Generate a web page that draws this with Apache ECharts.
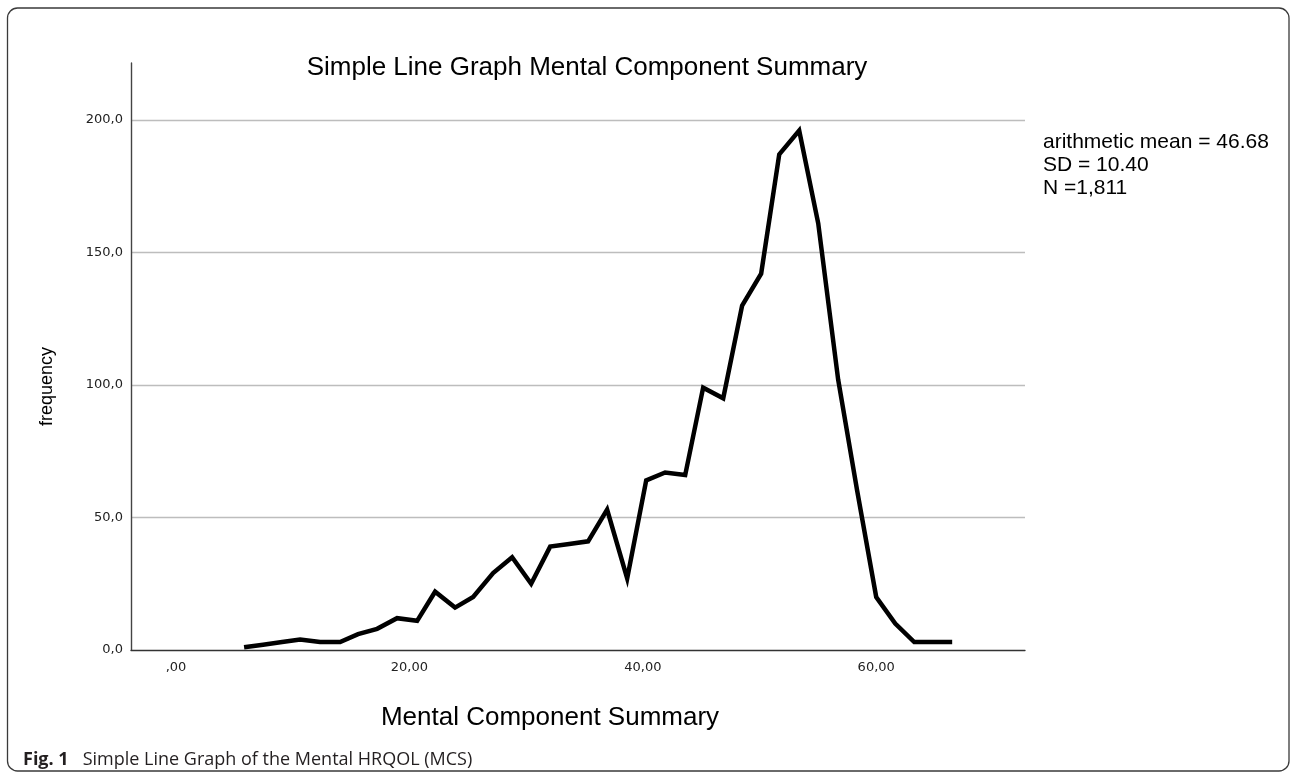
<!DOCTYPE html>
<html>
<head>
<meta charset="utf-8">
<style>
  html, body { margin: 0; padding: 0; background: #ffffff; }
  #chart { width: 1292px; height: 774px; }
</style>
<script src="https://cdn.jsdelivr.net/npm/echarts@6/dist/echarts.min.js"></script>
</head>
<body>
<div id="chart"></div>
<script>
// Mental Component Summary (bin centres) and frequencies
const mcsValues = [5.83, 7.46, 9.09, 10.63, 12.34, 14.06, 15.60, 17.23, 18.94, 20.66,
  22.20, 23.91, 25.46, 27.17, 28.80, 30.43, 32.06, 33.69, 35.31, 36.94,
  38.66, 40.29, 41.91, 43.63, 45.17, 46.89, 48.51, 50.14, 51.69, 53.40,
  55.03, 56.74, 58.37, 60.00, 61.63, 63.26, 64.89, 66.51];
const frequencies = [1, 2, 3, 4, 3, 3, 6, 8, 12, 11,
  22, 16, 20, 29, 35, 25, 39, 40, 41, 53,
  27, 64, 67, 66, 99, 95, 130, 142, 187, 196,
  161, 102, 60, 20, 10, 3, 3, 3];

const xTickValues = [0, 20, 40, 60];
const xTickLabels = [',00', '20,00', '40,00', '60,00'];
const yTickValues = [0, 50, 100, 150, 200];
const yTickLabels = ['0,0', '50,0', '100,0', '150,0', '200,0'];

const titleText = 'Simple Line Graph Mental Component Summary';
const xName = 'Mental Component Summary';
const yName = 'frequency';
const statsLines = ['arithmetic mean = 46.68', 'SD = 10.40', 'N =1,811'];
const captionBold = 'Fig. 1';
const captionText = 'Simple Line Graph of the Mental HRQOL (MCS)';

const lineData = mcsValues.map((x, i) => [x, frequencies[i]]);

const chart = echarts.init(document.getElementById('chart'), null, { renderer: 'canvas' });

function lookup(values, labels, v) {
  for (let i = 0; i < values.length; i++) {
    if (Math.abs(values[i] - v) < 1e-6) return labels[i];
  }
  return '';
}

const sansFont = 'Liberation Sans, Arial, sans-serif';

chart.setOption({
  backgroundColor: '#ffffff',
  animation: false,
  title: [
    {
      text: titleText,
      left: 582,
      textAlign: 'center',
      top: 50,
      textStyle: { fontFamily: sansFont, fontSize: 26, fontWeight: 'normal', color: '#000' }
    },
    {
      text: statsLines.join('\n'),
      left: 1038,
      top: 126,
      textStyle: { fontFamily: sansFont, fontSize: 21, fontWeight: 'normal', color: '#000', lineHeight: 23 }
    },
    {
      text: '{b|' + captionBold + '}{n|' + captionText + '}',
      left: 18,
      top: 746,
      textStyle: {
        rich: {
          b: { fontFamily: 'Open Sans, Noto Sans, sans-serif', fontSize: 18, fontWeight: 'bold', color: '#231f20', padding: [0, 14, 0, 0] },
          n: { fontFamily: 'Open Sans, Noto Sans, sans-serif', fontSize: 18, fontWeight: 'normal', color: '#231f20' }
        }
      }
    }
  ],
  graphic: [
    {
      type: 'rect',
      shape: { x: 7.5, y: 8, width: 1281.5, height: 763, r: 10 },
      style: { fill: 'none', stroke: '#3a3a3a', lineWidth: 1.3 },
      silent: true,
      z: 100
    }
  ],
  grid: { left: 131, right: 267, top: 63, bottom: 124, containLabel: false },
  xAxis: {
    type: 'value',
    min: -3.86,
    max: 72.75,
    minInterval: 20,
    maxInterval: 20,
    name: xName,
    nameLocation: 'middle',
    nameGap: 55,
    nameTextStyle: { fontFamily: sansFont, fontSize: 26, color: '#000', padding: [0, 56, 0, 0] },
    axisLine: { show: true, onZero: false, lineStyle: { color: '#333', width: 1.3 } },
    axisTick: { show: false },
    splitLine: { show: false },
    axisLabel: {
      margin: 11,
      showMinLabel: false,
      showMaxLabel: false,
      fontFamily: 'DejaVu Sans, sans-serif',
      fontSize: 13,
      color: '#222',
      formatter: v => lookup(xTickValues, xTickLabels, v)
    }
  },
  yAxis: {
    type: 'value',
    min: 0,
    max: 221.5,
    minInterval: 50,
    maxInterval: 50,
    name: yName,
    nameLocation: 'middle',
    nameGap: 75,
    nameRotate: 90,
    nameTextStyle: { fontFamily: sansFont, fontSize: 18, color: '#000', padding: [0, 60, 0, 0] },
    axisLine: { show: true, onZero: false, lineStyle: { color: '#444', width: 1.4 } },
    axisTick: { show: false },
    splitLine: { show: true, showMinLine: false, showMaxLine: false, lineStyle: { color: '#bdbdbd', width: 1.3 } },
    axisLabel: {
      margin: 8,
      showMaxLabel: false,
      fontFamily: 'DejaVu Sans, sans-serif',
      fontSize: 13,
      color: '#222',
      formatter: v => lookup(yTickValues, yTickLabels, v)
    }
  },
  series: [
    {
      type: 'line',
      data: lineData,
      showSymbol: false,
      symbol: 'none',
      lineStyle: { color: '#000', width: 4.5, join: 'miter' },
      z: 5
    }
  ]
});
</script>
</body>
</html>
